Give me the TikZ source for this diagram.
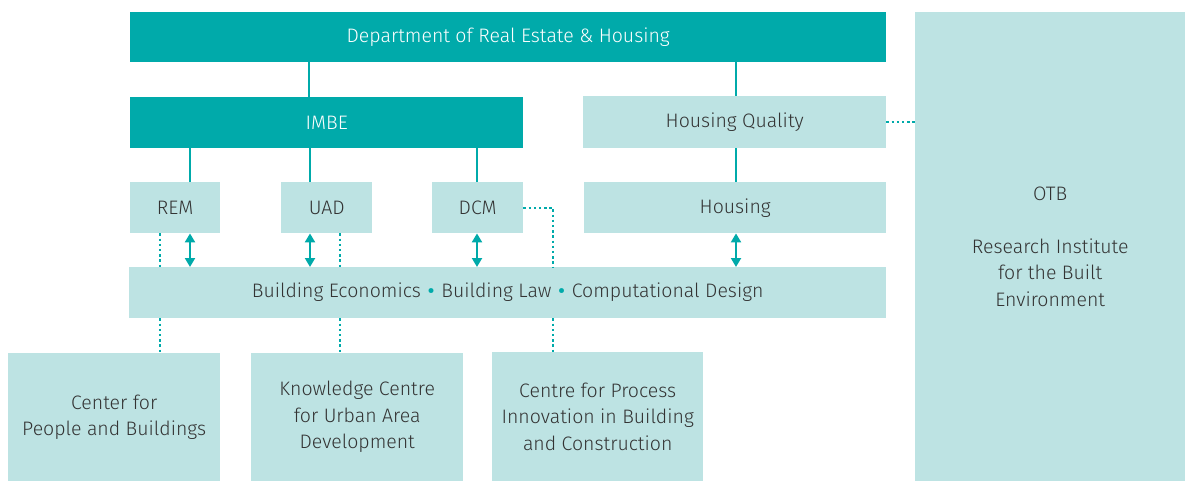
\documentclass[tikz,border=0pt]{standalone}
\usepackage{fontspec}
\setmainfont{Fira Sans Light}
\usetikzlibrary{arrows.meta}

\definecolor{deptteal}{HTML}{00AAAA}
\definecolor{deptpale}{HTML}{BDE3E3}
\definecolor{darktext}{HTML}{333333}

\newcommand{\sep}{ {\color{deptteal}\raisebox{-0.28em}{\scalebox{1.7}{\textbullet}}} }

\begin{document}
\begin{tikzpicture}[x=1pt, y=-1pt,
  dark/.style={fill=deptteal, text=white, inner sep=0pt, anchor=north west,
               align=center, font=\fontsize{19.5}{26.5}\selectfont},
  pale/.style={dark, fill=deptpale, text=darktext},
  link/.style={draw=deptteal, line width=2pt},
  dots/.style={draw=deptteal, line width=2.4pt, dash pattern=on 2.4pt off 2.8pt},
  both/.style={link, {Triangle[length=9pt,width=10pt]}-{Triangle[length=9pt,width=10pt]}}
]
\useasboundingbox (0,0) rectangle (1185,481);

% departments on top
\node[dark, minimum width=756pt, minimum height=50pt] (dept) at (130,12) {Department of Real Estate \& Housing};
\node[dark, minimum width=393pt, minimum height=51pt] (imbe) at (130,97) {IMBE};
\node[pale, minimum width=303pt, minimum height=52pt] (hq) at (583,96) {Housing Quality};

% sections
\node[pale, minimum width=90pt, minimum height=51pt] (rem) at (130,182) {REM};
\node[pale, minimum width=91pt, minimum height=51pt] (uad) at (281,182) {UAD};
\node[pale, minimum width=91pt, minimum height=51pt] (dcm) at (432,182) {DCM};
\node[pale, minimum width=302pt, minimum height=51pt] (hous) at (584,182) {Housing};

\node[pale, minimum width=757pt, minimum height=51pt] (bar) at (129,267)
  {Building Economics\sep Building Law\sep Computational Design};

% centres and institute
\node[pale, minimum width=212pt, minimum height=128pt] (cpb) at (8,353) {Center for\\People and Buildings};
\node[pale, minimum width=212pt, minimum height=128pt] (kcu) at (251,353) {Knowledge Centre\\for Urban Area\\Development};
\node[pale, minimum width=211pt, minimum height=129pt] (cpi) at (492,352) {Centre for Process\\Innovation in Building\\and Construction};
\node[pale, minimum width=270pt, minimum height=469pt] (otb) at (915,12) {OTB\\[26.5pt]Research Institute\\for the Built\\Environment};

% hierarchy
\draw[link] (dept.south -| 309,0) -- (imbe.north -| 309,0);
\draw[link] (dept.south -| 736,0) -- (hq.north -| 736,0);
\draw[link] (imbe.south -| 190,0) -- (rem.north -| 190,0);
\draw[link] (imbe.south -| 310,0) -- (uad.north -| 310,0);
\draw[link] (imbe.south -| 477,0) -- (dcm.north -| 477,0);
\draw[link] (hq.south -| 736,0) -- (hous.north -| 736,0);

% exchange with the chairs
\draw[both] (rem.south -| 190,0) -- (bar.north -| 190,0);
\draw[both] (uad.south -| 310,0) -- (bar.north -| 310,0);
\draw[both] (dcm.south -| 477,0) -- (bar.north -| 477,0);
\draw[both] (hous.south -| 736,0) -- (bar.north -| 736,0);

% loose ties
\draw[dots] (rem.south -| 160,0) -- (bar.north -| 160,0);
\draw[dots] (uad.south -| 340,0) -- (bar.north -| 340,0);
\draw[dots] (dcm.east) -| (bar.north -| 553,0);
\draw[dots] (bar.south -| 160,0) -- (cpb.north -| 160,0);
\draw[dots] (bar.south -| 340,0) -- (kcu.north -| 340,0);
\draw[dots] (bar.south -| 553,0) -- (cpi.north -| 553,0);
\draw[dots] (hq.east) -- (hq.east -| otb.west);
\end{tikzpicture}
\end{document}
